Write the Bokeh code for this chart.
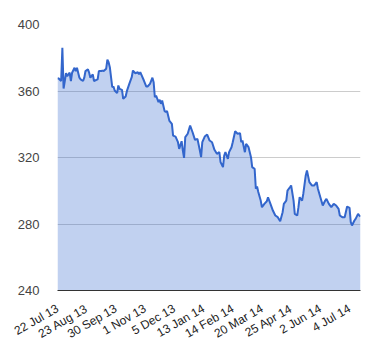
import math
from bokeh.plotting import figure
from bokeh.models import Range1d, FixedTicker
from bokeh.embed import file_html
from bokeh.resources import INLINE

# trading-day index (0 = 22 Jul 13) and closing price
day = [0, 1, 3, 4, 5, 6, 7, 8, 10, 11, 12, 14, 15, 16, 18, 19, 21, 22, 23, 25,
       26, 27, 29, 30, 32, 33, 34, 36, 37, 38, 40, 41, 42, 43, 45, 46, 47, 49, 50, 51,
       53, 54, 56, 57, 59, 61, 62, 64, 66, 67, 68, 71, 73, 74, 76, 78, 79, 80, 81, 83,
       84, 85, 86, 88, 89, 90, 92, 94, 95, 97, 99, 100, 102, 103, 104, 105, 107, 109, 111, 113,
       115, 117, 118, 119, 121, 123, 125, 127, 129, 131, 133, 134, 136, 137, 138, 140, 141, 143, 144, 146,
       148, 150, 151, 152, 154, 155, 157, 159, 160, 162, 163, 164, 165, 167, 168, 170, 172, 173, 175, 177,
       179, 181, 183, 185, 186, 188, 189, 191, 192, 194, 195, 197, 198, 199, 201, 202, 204, 205, 207, 209,
       211, 213, 214, 216, 218, 220, 221, 223, 225, 227, 229, 231, 232, 234, 236, 238, 240, 241, 242, 244,
       245, 247, 248, 249]
price = [367.7, 367.5, 366.0, 386.0, 361.5, 366.0, 370.7, 369.0, 371.0, 366.0, 371.0, 374.0, 372.0, 374.0, 368.0, 367.0, 366.0, 368.0, 372.0, 373.0,
         371.0, 368.0, 370.0, 366.0, 366.7, 367.0, 372.0, 372.0, 372.3, 372.0, 373.4, 378.8, 377.3, 374.3, 362.3, 362.7, 360.3, 358.7, 363.3, 361.3,
         360.7, 355.3, 356.7, 359.9, 364.3, 368.3, 372.3, 370.7, 371.3, 370.0, 371.3, 366.3, 362.7, 362.7, 364.3, 368.0, 365.3, 356.3, 357.3, 353.3,
         354.7, 352.3, 354.3, 348.0, 347.3, 348.0, 342.0, 340.2, 333.2, 332.6, 329.2, 325.2, 329.8, 324.2, 319.8, 332.3, 334.3, 339.2, 335.2, 330.6,
         331.2, 324.2, 320.2, 329.2, 332.6, 333.8, 330.2, 329.2, 324.6, 322.2, 323.2, 317.2, 314.2, 321.2, 323.2, 319.2, 323.2, 326.2, 329.2, 335.8,
         334.3, 334.6, 329.2, 330.2, 323.2, 328.2, 326.2, 320.2, 314.2, 313.2, 301.2, 302.6, 299.2, 294.1, 290.1, 292.1, 293.7, 296.1, 292.1, 288.1,
         285.1, 284.1, 281.7, 287.1, 292.1, 294.1, 300.1, 302.1, 303.2, 294.1, 286.1, 285.1, 290.1, 296.1, 294.1, 298.2, 309.2, 312.2, 305.2, 303.2,
         303.2, 305.2, 301.2, 296.1, 291.1, 294.1, 295.1, 292.1, 290.1, 292.1, 291.1, 289.1, 285.1, 284.1, 284.1, 290.5, 289.7, 281.1, 279.1, 282.1,
         283.1, 286.1, 285.1, 284.5]

tick_days = [0, 24, 48, 72, 96, 120, 144, 168, 192, 216, 240]
tick_labels = ["22 Jul 13", "23 Aug 13", "30 Sep 13", "1 Nov 13", "5 Dec 13", "13 Jan 14",
               "14 Feb 14", "20 Mar 14", "25 Apr 14", "2 Jun 14", "4 Jul 14"]
y_ticks = [240, 280, 320, 360, 400]

FONT = "Liberation Sans"

p = figure(width=372, height=352, output_backend="svg", toolbar_location=None,
           x_range=Range1d(0, 249), y_range=Range1d(240, 400),
           min_border_left=57, min_border_right=12, min_border_top=24, min_border_bottom=62)
p.outline_line_color = None
p.background_fill_color = "white"

p.varea(x=day, y1=[240] * len(day), y2=price, fill_color="#3366cc", fill_alpha=0.3)
p.line(day, price, line_color="#3366cc", line_width=2)

p.xgrid.grid_line_color = None
p.ygrid.grid_line_color = "#cccccc"
p.ygrid.ticker = FixedTicker(ticks=y_ticks)

p.yaxis.ticker = FixedTicker(ticks=y_ticks)
p.yaxis.axis_line_color = None
p.yaxis.major_tick_line_color = None
p.yaxis.minor_tick_line_color = None
p.yaxis.major_label_standoff = 12
p.yaxis.major_label_text_font = FONT
p.yaxis.major_label_text_font_size = "13px"
p.yaxis.major_label_text_color = "#444444"

p.xaxis.ticker = FixedTicker(ticks=tick_days)
p.xaxis.major_label_overrides = {d: l for d, l in zip(tick_days, tick_labels)}
p.xaxis.major_label_orientation = math.pi / 6
p.xaxis.axis_line_color = "#333333"
p.xaxis.axis_line_width = 1
p.xaxis.major_tick_line_color = None
p.xaxis.minor_tick_line_color = None
p.xaxis.major_label_standoff = 11
p.xaxis.major_label_text_font = FONT
p.xaxis.major_label_text_font_size = "12px"
p.xaxis.major_label_text_color = "#222222"

open("out.html", "w").write(file_html(p, INLINE))
